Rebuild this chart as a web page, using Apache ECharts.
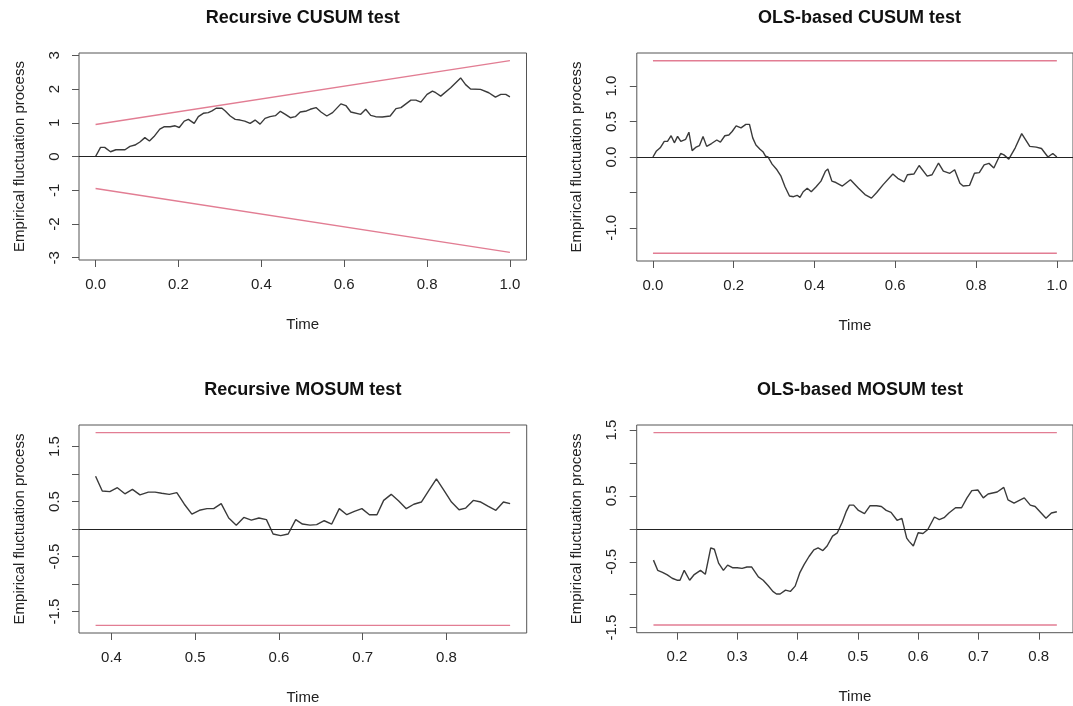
<!DOCTYPE html>
<html>
<head>
<meta charset="utf-8">
<script src="https://cdn.jsdelivr.net/npm/echarts@6/dist/echarts.min.js"></script>
<style>html,body{margin:0;padding:0;background:#fff;}#c{width:1073px;height:706px;}</style>
</head>
<body>
<div id="c"></div>
<script>
// ---------- data ----------
const titles = ['Recursive CUSUM test', 'OLS-based CUSUM test', 'Recursive MOSUM test', 'OLS-based MOSUM test'];

const rcusumTime = [0, 0.012, 0.022, 0.036, 0.049, 0.071, 0.083, 0.095, 0.107, 0.119, 0.130, 0.141, 0.155, 0.165, 0.180, 0.192, 0.202, 0.214, 0.224, 0.238, 0.248, 0.260, 0.272, 0.281, 0.291, 0.305, 0.313, 0.325, 0.337, 0.349, 0.360, 0.373, 0.385, 0.397, 0.409, 0.421, 0.434, 0.446, 0.458, 0.470, 0.482, 0.494, 0.509, 0.518, 0.532, 0.544, 0.558, 0.572, 0.592, 0.604, 0.616, 0.640, 0.652, 0.664, 0.676, 0.692, 0.711, 0.725, 0.737, 0.761, 0.773, 0.785, 0.800, 0.813, 0.821, 0.833, 0.857, 0.881, 0.893, 0.905, 0.929, 0.949, 0.965, 0.978, 0.990, 1.0];
const rcusumValue = [0, 0.27, 0.27, 0.14, 0.20, 0.20, 0.30, 0.34, 0.43, 0.56, 0.46, 0.59, 0.81, 0.88, 0.88, 0.91, 0.86, 1.05, 1.10, 0.98, 1.18, 1.28, 1.30, 1.35, 1.43, 1.43, 1.35, 1.20, 1.10, 1.08, 1.05, 0.98, 1.08, 0.96, 1.13, 1.18, 1.21, 1.34, 1.25, 1.15, 1.18, 1.32, 1.35, 1.40, 1.45, 1.32, 1.20, 1.30, 1.56, 1.51, 1.32, 1.25, 1.40, 1.22, 1.18, 1.17, 1.20, 1.42, 1.45, 1.67, 1.67, 1.61, 1.84, 1.94, 1.89, 1.79, 2.04, 2.33, 2.13, 2.00, 1.99, 1.89, 1.76, 1.84, 1.84, 1.77];
const rcusumBoundTime = [0, 1];
const rcusumBoundUpper = [0.948, 2.844];

const ocusumTime = [0, 0.008, 0.018, 0.028, 0.036, 0.045, 0.053, 0.061, 0.069, 0.081, 0.089, 0.097, 0.107, 0.115, 0.124, 0.133, 0.145, 0.158, 0.167, 0.178, 0.188, 0.196, 0.206, 0.218, 0.230, 0.239, 0.247, 0.255, 0.265, 0.273, 0.279, 0.285, 0.295, 0.307, 0.317, 0.327, 0.338, 0.348, 0.357, 0.364, 0.372, 0.382, 0.392, 0.404, 0.416, 0.427, 0.433, 0.443, 0.453, 0.469, 0.489, 0.509, 0.525, 0.541, 0.554, 0.570, 0.594, 0.606, 0.622, 0.630, 0.646, 0.659, 0.679, 0.691, 0.707, 0.719, 0.735, 0.747, 0.760, 0.768, 0.784, 0.796, 0.808, 0.820, 0.832, 0.844, 0.861, 0.869, 0.881, 0.897, 0.913, 0.933, 0.949, 0.962, 0.978, 0.990, 1.0];
const ocusumValue = [0, 0.08, 0.13, 0.22, 0.22, 0.30, 0.20, 0.29, 0.22, 0.25, 0.35, 0.09, 0.14, 0.16, 0.29, 0.15, 0.19, 0.24, 0.21, 0.30, 0.31, 0.36, 0.44, 0.41, 0.46, 0.46, 0.27, 0.17, 0.11, 0.07, 0.01, 0.0, -0.10, -0.18, -0.27, -0.42, -0.55, -0.56, -0.54, -0.57, -0.49, -0.44, -0.49, -0.42, -0.34, -0.20, -0.17, -0.34, -0.36, -0.41, -0.32, -0.44, -0.53, -0.58, -0.50, -0.39, -0.24, -0.30, -0.35, -0.25, -0.24, -0.12, -0.27, -0.25, -0.085, -0.20, -0.23, -0.18, -0.37, -0.41, -0.40, -0.23, -0.22, -0.11, -0.09, -0.155, 0.05, 0.03, -0.03, 0.13, 0.33, 0.15, 0.14, 0.12, 0.0, 0.05, 0.0];
const ocusumBoundTime = [0, 1];
const ocusumBound = 1.358;

const rmosumTime = [0.381, 0.389, 0.398, 0.407, 0.416, 0.425, 0.434, 0.444, 0.452, 0.460, 0.469, 0.478, 0.487, 0.496, 0.505, 0.514, 0.522, 0.531, 0.540, 0.549, 0.558, 0.567, 0.576, 0.585, 0.593, 0.602, 0.611, 0.620, 0.628, 0.637, 0.645, 0.654, 0.663, 0.672, 0.681, 0.690, 0.699, 0.708, 0.717, 0.725, 0.734, 0.743, 0.752, 0.761, 0.770, 0.779, 0.788, 0.797, 0.806, 0.815, 0.823, 0.832, 0.841, 0.850, 0.859, 0.868, 0.876];
const rmosumValue = [0.96, 0.69, 0.68, 0.75, 0.64, 0.72, 0.62, 0.67, 0.67, 0.65, 0.63, 0.66, 0.45, 0.27, 0.34, 0.37, 0.37, 0.46, 0.20, 0.07, 0.21, 0.16, 0.20, 0.17, -0.09, -0.12, -0.09, 0.17, 0.09, 0.07, 0.08, 0.15, 0.09, 0.37, 0.26, 0.32, 0.37, 0.26, 0.26, 0.52, 0.63, 0.51, 0.37, 0.45, 0.49, 0.70, 0.91, 0.70, 0.49, 0.35, 0.38, 0.52, 0.49, 0.41, 0.34, 0.49, 0.46];
const rmosumBoundTime = [0.381, 0.876];
const rmosumBound = 1.75;

const omosumTime = [0.161, 0.168, 0.176, 0.184, 0.192, 0.200, 0.205, 0.212, 0.221, 0.228, 0.239, 0.247, 0.256, 0.262, 0.269, 0.277, 0.284, 0.292, 0.300, 0.308, 0.316, 0.324, 0.335, 0.343, 0.351, 0.359, 0.365, 0.371, 0.380, 0.388, 0.396, 0.404, 0.411, 0.419, 0.427, 0.434, 0.442, 0.449, 0.458, 0.466, 0.474, 0.481, 0.486, 0.493, 0.501, 0.511, 0.520, 0.531, 0.539, 0.547, 0.555, 0.565, 0.573, 0.581, 0.585, 0.592, 0.600, 0.608, 0.616, 0.627, 0.635, 0.643, 0.651, 0.662, 0.672, 0.681, 0.689, 0.699, 0.708, 0.716, 0.731, 0.742, 0.749, 0.759, 0.767, 0.776, 0.786, 0.794, 0.804, 0.812, 0.821, 0.830];
const omosumValue = [-0.475, -0.63, -0.66, -0.70, -0.75, -0.78, -0.78, -0.63, -0.78, -0.70, -0.63, -0.69, -0.29, -0.31, -0.52, -0.63, -0.55, -0.59, -0.59, -0.60, -0.58, -0.58, -0.73, -0.78, -0.86, -0.95, -0.99, -0.99, -0.93, -0.95, -0.87, -0.66, -0.54, -0.42, -0.32, -0.29, -0.33, -0.26, -0.11, -0.06, 0.10, 0.27, 0.36, 0.36, 0.28, 0.23, 0.35, 0.35, 0.34, 0.28, 0.25, 0.13, 0.16, -0.14, -0.19, -0.26, -0.06, -0.07, -0.01, 0.18, 0.14, 0.17, 0.24, 0.32, 0.32, 0.47, 0.58, 0.59, 0.47, 0.53, 0.56, 0.63, 0.44, 0.39, 0.43, 0.47, 0.36, 0.34, 0.24, 0.16, 0.24, 0.26];
const omosumBoundTime = [0.161, 0.830];
const omosumBound = 1.46;

// tick values
const xTicks1 = [0, 0.2, 0.4, 0.6, 0.8, 1.0];
const yTicks1 = [-3, -2, -1, 0, 1, 2, 3];
const yLabels1 = [-3, -2, -1, 0, 1, 2, 3];
const xTicks2 = [0, 0.2, 0.4, 0.6, 0.8, 1.0];
const yTicks2 = [-1.0, -0.5, 0, 0.5, 1.0];
const yLabels2 = [-1.0, 0, 0.5, 1.0];
const xTicks3 = [0.4, 0.5, 0.6, 0.7, 0.8];
const yTicks3 = [-1.5, -1.0, -0.5, 0, 0.5, 1.0, 1.5];
const yLabels3 = [-1.5, -0.5, 0.5, 1.5];
const xTicks4 = [0.2, 0.3, 0.4, 0.5, 0.6, 0.7, 0.8];
const yTicks4 = [-1.5, -1.0, -0.5, 0, 0.5, 1.0, 1.5];
const yLabels4 = [-1.5, -0.5, 0.5, 1.5];

// ---------- build ----------
const FONT = '"Liberation Sans", Arial, Helvetica, sans-serif';
const TXT = '#222';
const BOX = '#555';
const LINE = '#3a3a3a';
const PINK = '#E27D93';

function pairs(t, v) { return t.map((x, i) => [x, v[i]]); }

const panels = [
  { grid: {left: 79, top: 53, width: 447.5, height: 207}, x: [-0.04, 1.04], y: [-3.0675, 3.0675],
    xt: xTicks1, yt: yTicks1, yl: yLabels1, ydec: 0,
    data: pairs(rcusumTime, rcusumValue),
    up: pairs(rcusumBoundTime, rcusumBoundUpper), lo: pairs(rcusumBoundTime, rcusumBoundUpper.map(v => -v)) },
  { grid: {left: 636.8, top: 53, width: 445.4, height: 208}, x: [-0.04, 1.04], y: [-1.467, 1.467],
    xt: xTicks2, yt: yTicks2, yl: yLabels2, ydec: 1,
    data: pairs(ocusumTime, ocusumValue),
    up: pairs(ocusumBoundTime, ocusumBoundTime.map(() => ocusumBound)), lo: pairs(ocusumBoundTime, ocusumBoundTime.map(() => -ocusumBound)) },
  { grid: {left: 79, top: 425, width: 447.7, height: 208.3}, x: [0.3612, 0.8958], y: [-1.89, 1.89],
    xt: xTicks3, yt: yTicks3, yl: yLabels3, ydec: 1,
    data: pairs(rmosumTime, rmosumValue),
    up: pairs(rmosumBoundTime, rmosumBoundTime.map(() => rmosumBound)), lo: pairs(rmosumBoundTime, rmosumBoundTime.map(() => -rmosumBound)) },
  { grid: {left: 636.7, top: 425, width: 446.5, height: 207.7}, x: [0.1332, 0.8568], y: [-1.577, 1.577],
    xt: xTicks4, yt: yTicks4, yl: yLabels4, ydec: 1,
    data: pairs(omosumTime, omosumValue),
    up: pairs(omosumBoundTime, omosumBoundTime.map(() => omosumBound)), lo: pairs(omosumBoundTime, omosumBoundTime.map(() => -omosumBound)) }
];

const option = { animation: false, grid: [], xAxis: [], yAxis: [], series: [], graphic: [] };

panels.forEach((p, i) => {
  option.grid.push(Object.assign({ show: true, borderColor: BOX, borderWidth: 1, backgroundColor: 'transparent' }, p.grid));
  option.xAxis.push({
    type: 'value', gridIndex: i, min: p.x[0], max: p.x[1], position: 'bottom',
    axisLine: { show: false, onZero: false }, splitLine: { show: false },
    axisTick: { show: true, inside: false, length: 7, customValues: p.xt, lineStyle: { color: BOX } },
    axisLabel: { customValues: p.xt, formatter: v => v.toFixed(1), margin: 17, fontSize: 15, color: TXT, fontFamily: FONT },
    name: 'Time', nameLocation: 'middle', nameGap: 57,
    nameTextStyle: { fontSize: 15, color: TXT, fontFamily: FONT }
  });
  option.yAxis.push({
    type: 'value', gridIndex: i, min: p.y[0], max: p.y[1], position: 'left',
    axisLine: { show: false, onZero: false }, splitLine: { show: false },
    axisTick: { show: true, inside: false, length: 7, customValues: p.yt, lineStyle: { color: BOX } },
    axisLabel: { customValues: p.yl, rotate: 90, formatter: v => v.toFixed(p.ydec), margin: 17, fontSize: 15, color: TXT, fontFamily: FONT },
    name: 'Empirical fluctuation process', nameLocation: 'middle', nameGap: 52,
    nameTextStyle: { fontSize: 15, color: TXT, fontFamily: FONT }
  });
  option.series.push({
    type: 'line', xAxisIndex: i, yAxisIndex: i, data: p.data, showSymbol: false, symbol: 'none',
    lineStyle: { color: LINE, width: 1.4 }, silent: true,
    markLine: { silent: true, symbol: 'none', label: { show: false },
      lineStyle: { color: '#222', width: 1, type: 'solid' }, data: [{ yAxis: 0 }] }
  });
  [p.up, p.lo].forEach(b => option.series.push({
    type: 'line', xAxisIndex: i, yAxisIndex: i, data: b, showSymbol: false, symbol: 'none',
    lineStyle: { color: PINK, width: 1.3 }, silent: true
  }));
  const g = p.grid;
  option.graphic.push({
    type: 'text', x: g.left + g.width / 2, y: i < 2 ? 18 : 390,
    style: { text: titles[i], textAlign: 'center', textVerticalAlign: 'middle',
      font: 'bold 18px ' + FONT, fill: '#111' }
  });
});

const chart = echarts.init(document.getElementById('c'), null, { renderer: 'canvas' });
chart.setOption(option);
</script>
</body>
</html>
